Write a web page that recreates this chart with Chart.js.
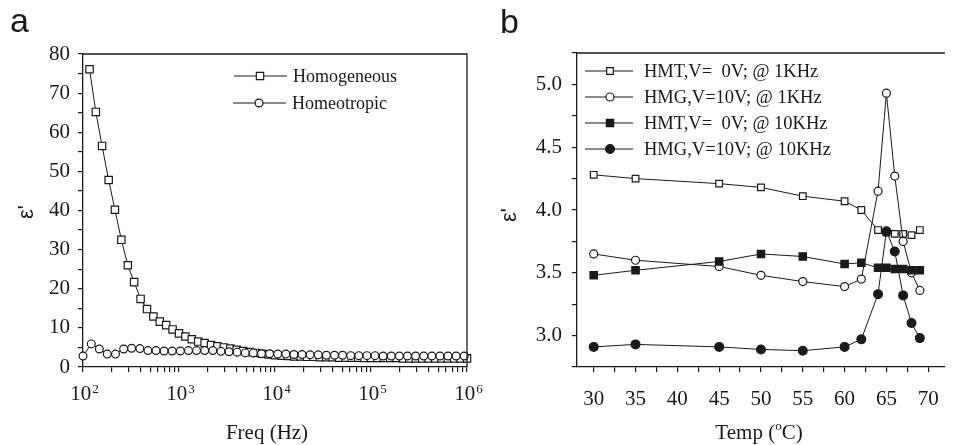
<!DOCTYPE html>
<html>
<head>
<meta charset="utf-8">
<script src="https://cdn.jsdelivr.net/npm/chart.js@4.4.0/dist/chart.umd.min.js"></script>
<style>
  html, body { margin: 0; padding: 0; background: #fff; overflow: hidden; }
  #wrap { position: relative; width: 953px; height: 445px; }
  #ca { position: absolute; left: 0; top: 0; }
  #cb { position: absolute; left: 480px; top: 0; }
</style>
</head>
<body>
<div id="wrap">
  <canvas id="ca" width="500" height="445"></canvas>
  <canvas id="cb" width="474" height="445"></canvas>
</div>
<script>
// ---- panel a : permittivity vs frequency ----
const FREQ_HOMOGENEOUS = [117, 136, 158, 185, 215, 251, 293, 341, 398, 464, 541, 631, 736, 858, 1000,
  1166, 1359, 1585, 1848, 2154, 2512, 2929, 3415, 3981, 4642, 5412, 6310, 7356, 8577, 10000,
  11660, 13590, 15850, 18480, 21540, 25120, 29290, 34150, 39810, 46420, 54120, 63100, 73560, 85770, 100000,
  116600, 135900, 158500, 184800, 215400, 251200, 292900, 341500, 398100, 464200, 541200, 631000, 735600, 857700, 1000000];
const EPS_HOMOGENEOUS = [76.1, 65.2, 56.5, 47.8, 40.2, 32.5, 26.0, 21.7, 17.4, 14.8, 12.9, 11.6, 10.7, 9.6, 8.6,
  7.8, 7.1, 6.5, 6.1, 5.6, 5.3, 5.0, 4.7, 4.4, 4.1, 3.8, 3.6, 3.4, 3.2, 3.0,
  2.9, 2.8, 2.7, 2.7, 2.6, 2.6, 2.5, 2.5, 2.5, 2.4, 2.4, 2.4, 2.4, 2.3, 2.3,
  2.3, 2.3, 2.3, 2.3, 2.2, 2.2, 2.2, 2.2, 2.2, 2.2, 2.2, 2.2, 2.2, 2.2, 2.2];

const FREQ_HOMEOTROPIC = [100, 122, 148, 179, 218, 265, 321, 391, 474, 576, 700, 850,
  1033, 1255, 1524, 1851, 2249, 2733, 3319, 4032, 4898, 5950, 7228, 8780,
  10670, 12960, 15740, 19120, 23230, 28220, 34280, 41640, 50580, 61450, 74650, 90680,
  110150, 133810, 162560, 197470, 239880, 291410, 354000, 430030, 522400, 634600, 770900, 936500];
const EPS_HOMEOTROPIC = [2.8, 5.9, 4.6, 3.3, 3.3, 4.6, 4.8, 4.7, 4.2, 4.2, 4.1, 4.1,
  4.1, 4.2, 4.2, 4.2, 4.2, 4.0, 3.9, 3.8, 3.6, 3.6, 3.4, 3.4,
  3.3, 3.3, 3.2, 3.2, 3.1, 3.1, 3.0, 3.0, 3.0, 2.9, 2.9, 2.9,
  2.9, 2.8, 2.8, 2.8, 2.8, 2.8, 2.8, 2.8, 2.8, 2.8, 2.8, 2.8];

const FREQ_TICKS = [100, 200, 300, 400, 500, 600, 700, 800, 900,
  1000, 2000, 3000, 4000, 5000, 6000, 7000, 8000, 9000,
  10000, 20000, 30000, 40000, 50000, 60000, 70000, 80000, 90000,
  100000, 200000, 300000, 400000, 500000, 600000, 700000, 800000, 900000, 1000000];
const FREQ_LABEL_EXPONENTS = [2, 3, 4, 5, 6];
const EPS_A_TICKS = [0, 5, 10, 15, 20, 25, 30, 35, 40, 45, 50, 55, 60, 65, 70, 75, 80];
const LEGEND_A = ['Homogeneous', 'Homeotropic'];

// ---- panel b : permittivity vs temperature ----
const TEMP = [30, 35, 45, 50, 55, 60, 62, 64, 65, 66, 67, 68, 69];
const HMT_1K  = [4.28, 4.25, 4.21, 4.18, 4.11, 4.07, 4.00, 3.84, 3.82, 3.81, 3.81, 3.80, 3.84];
const HMG_1K  = [3.65, 3.60, 3.55, 3.48, 3.43, 3.39, 3.45, 4.15, 4.93, 4.27, 3.75, 3.50, 3.36];
const HMT_10K = [3.48, 3.52, 3.59, 3.65, 3.63, 3.57, 3.58, 3.54, 3.54, 3.53, 3.53, 3.52, 3.52];
const HMG_10K = [2.91, 2.93, 2.91, 2.89, 2.88, 2.91, 2.97, 3.33, 3.83, 3.67, 3.32, 3.10, 2.98];

const TEMP_TICKS = [30, 32.5, 35, 37.5, 40, 42.5, 45, 47.5, 50, 52.5, 55, 57.5, 60, 62.5, 65, 67.5, 70];
const EPS_B_TICKS = [2.75, 3.0, 3.25, 3.5, 3.75, 4.0, 4.25, 4.5, 4.75, 5.0, 5.25];
const LEGEND_B = ['HMT,V=  0V; @ 1KHz', 'HMG,V=10V; @ 1KHz', 'HMT,V=  0V; @ 10KHz', 'HMG,V=10V; @ 10KHz'];

const INK = '#1a1a1a';
const SERIF = '"Liberation Serif", "Times New Roman", serif';
const SANS = '"Liberation Sans", Arial, sans-serif';

function pts(xs, ys) { return xs.map((x, i) => ({ x: x, y: ys[i] })); }

function marker(ctx, style, r, fill, x, y) {
  ctx.save();
  ctx.beginPath();
  if (style === 'rect') {
    const s = r * Math.SQRT1_2;
    ctx.rect(x - s, y - s, 2 * s, 2 * s);
  } else {
    ctx.arc(x, y, r, 0, Math.PI * 2);
  }
  ctx.fillStyle = fill;
  ctx.fill();
  ctx.lineWidth = 1.2;
  ctx.strokeStyle = INK;
  ctx.stroke();
  ctx.restore();
}

function legendRow(ctx, ds, label, x0, x1, xm, xt, y, font) {
  ctx.save();
  ctx.strokeStyle = INK;
  ctx.lineWidth = 1.2;
  ctx.beginPath(); ctx.moveTo(x0, y); ctx.lineTo(x1, y); ctx.stroke();
  marker(ctx, ds.pointStyle, ds.pointRadius, ds.pointBackgroundColor, xm, y);
  ctx.fillStyle = INK;
  ctx.font = font;
  ctx.textBaseline = 'middle';
  ctx.textAlign = 'left';
  ctx.fillText(label, xt, y + 1);
  ctx.restore();
}

function yTitle(ctx, x, y) {
  ctx.save();
  ctx.translate(x, y);
  ctx.rotate(-Math.PI / 2);
  ctx.fillStyle = INK;
  ctx.font = '22px ' + SANS;
  ctx.textAlign = 'center';
  ctx.textBaseline = 'middle';
  ctx.fillText("ε'", 0, 0);
  ctx.restore();
}

function series(label, xs, ys, style, r, fill, order) {
  return {
    label: label, data: pts(xs, ys), order: order,
    borderColor: INK, borderWidth: 1, pointStyle: style, pointRadius: r,
    pointBackgroundColor: fill, pointBorderColor: INK, pointBorderWidth: 1.2,
    tension: 0, fill: false, clip: false
  };
}

function axisBase() {
  return {
    grid: { display: true, drawOnChartArea: false, drawTicks: true, tickLength: 5, color: INK, lineWidth: 1.2 },
    border: { display: true, color: INK, width: 1.3 },
    ticks: { font: { family: SERIF, size: 21 }, color: INK, autoSkip: false, maxRotation: 0 }
  };
}

// ---------- chart a ----------
const xa = axisBase();
xa.type = 'logarithmic'; xa.min = 100; xa.max = 1000000;
xa.afterBuildTicks = s => { s.ticks = FREQ_TICKS.map(v => ({ value: v })); };
xa.ticks.callback = () => '';
xa.afterFit = s => { s.height = 78; };

const ya = axisBase();
ya.type = 'linear'; ya.min = 0; ya.max = 80;
ya.afterBuildTicks = s => { s.ticks = EPS_A_TICKS.map(v => ({ value: v })); };
ya.ticks.callback = v => (v % 10 === 0 ? String(v) : '');
ya.ticks.padding = 8;
ya.afterFit = s => { s.width = 83; };

const decorA = {
  id: 'decorA',
  afterDraw(chart) {
    const { ctx, chartArea: a } = chart;
    const sx = chart.scales.x;
    ctx.save();
    ctx.strokeStyle = INK; ctx.lineWidth = 1.3;
    ctx.beginPath(); ctx.moveTo(a.left, a.top); ctx.lineTo(a.right, a.top); ctx.lineTo(a.right, a.bottom); ctx.stroke();

    // 10^n labels
    ctx.fillStyle = INK; ctx.textBaseline = 'alphabetic'; ctx.textAlign = 'left';
    FREQ_LABEL_EXPONENTS.forEach(p => {
      const x = sx.getPixelForValue(Math.pow(10, p));
      ctx.font = '21px ' + SERIF;
      const wb = ctx.measureText('10').width;
      ctx.font = '13px ' + SERIF;
      const we = ctx.measureText(String(p)).width;
      const start = x - (wb + we) / 2 + 1;
      ctx.font = '21px ' + SERIF;
      ctx.fillText('10', start, 400);
      ctx.font = '13px ' + SERIF;
      ctx.fillText(String(p), start + wb + 1, 393);
    });

    ctx.font = '21px ' + SERIF;
    ctx.textAlign = 'center';
    ctx.fillText('Freq (Hz)', 267, 439);
    ctx.restore();

    yTitle(ctx, 27, 212);

    ctx.save();
    ctx.fillStyle = INK; ctx.font = '34px ' + SANS; ctx.textAlign = 'left'; ctx.textBaseline = 'alphabetic';
    ctx.fillText('a', 10, 32);
    ctx.restore();

    const ds = chart.data.datasets;
    legendRow(ctx, ds[0], LEGEND_A[0], 234, 287, 260, 293, 76, '18px ' + SERIF);
    legendRow(ctx, ds[1], LEGEND_A[1], 233, 286, 259, 292, 103, '18px ' + SERIF);
  }
};

new Chart(document.getElementById('ca'), {
  type: 'line',
  data: {
    datasets: [
      series(LEGEND_A[0], FREQ_HOMOGENEOUS, EPS_HOMOGENEOUS, 'rect', 5.2, '#fff', 1),
      series(LEGEND_A[1], FREQ_HOMEOTROPIC, EPS_HOMEOTROPIC, 'circle', 3.9, '#fff', 0)
    ]
  },
  options: {
    responsive: false, animation: false, events: [],
    layout: { padding: { left: 0, right: 33, top: 54, bottom: 0 } },
    plugins: { legend: { display: false }, tooltip: { enabled: false } },
    scales: { x: xa, y: ya }
  },
  plugins: [decorA]
});

// ---------- chart b ----------
const xb = axisBase();
xb.type = 'linear'; xb.min = 28; xb.max = 72;
xb.afterBuildTicks = s => { s.ticks = TEMP_TICKS.map(v => ({ value: v })); };
xb.ticks.callback = v => (v % 5 === 0 ? String(v) : '');
xb.ticks.padding = 15;
xb.afterFit = s => { s.height = 78; };

const yb = axisBase();
yb.type = 'linear'; yb.min = 2.75; yb.max = 5.25;
yb.afterBuildTicks = s => { s.ticks = EPS_B_TICKS.map(v => ({ value: v })); };
yb.ticks.callback = v => (Math.abs(v * 2 - Math.round(v * 2)) < 1e-9 ? v.toFixed(1) : '');
yb.ticks.padding = 10;
yb.afterFit = s => { s.width = 97; };

const decorB = {
  id: 'decorB',
  afterDraw(chart) {
    const { ctx, chartArea: a } = chart;
    ctx.save();
    ctx.strokeStyle = INK; ctx.lineWidth = 1.3;
    ctx.beginPath(); ctx.moveTo(a.left, a.top); ctx.lineTo(a.right, a.top); ctx.stroke();

    // x title with superscript o
    ctx.fillStyle = INK; ctx.textBaseline = 'alphabetic'; ctx.textAlign = 'left';
    ctx.font = '21px ' + SERIF;
    const w1 = ctx.measureText('Temp (').width;
    const w3 = ctx.measureText('C)').width;
    ctx.font = '13px ' + SERIF;
    const w2 = ctx.measureText('o').width;
    let x = 279 - (w1 + w2 + w3) / 2;
    ctx.font = '21px ' + SERIF;
    ctx.fillText('Temp (', x, 439);
    ctx.font = '13px ' + SERIF;
    ctx.fillText('o', x + w1, 430);
    ctx.font = '21px ' + SERIF;
    ctx.fillText('C)', x + w1 + w2, 439);
    ctx.restore();

    yTitle(ctx, 30, 215);

    ctx.save();
    ctx.fillStyle = INK; ctx.font = '34px ' + SANS; ctx.textAlign = 'left'; ctx.textBaseline = 'alphabetic';
    ctx.fillText('b', 20, 33);
    ctx.restore();

    const ds = chart.data.datasets;
    const rows = [71, 97, 123, 149];
    ds.forEach((d, i) => legendRow(ctx, d, LEGEND_B[i], 105, 153, 130, 164, rows[i], '18.5px ' + SERIF));
  }
};

new Chart(document.getElementById('cb'), {
  type: 'line',
  data: {
    datasets: [
      series(LEGEND_B[0], TEMP, HMT_1K, 'rect', 4.7, '#fff', 4),
      series(LEGEND_B[1], TEMP, HMG_1K, 'circle', 4, '#fff', 3),
      series(LEGEND_B[2], TEMP, HMT_10K, 'rect', 5.2, INK, 2),
      series(LEGEND_B[3], TEMP, HMG_10K, 'circle', 4.4, INK, 1)
    ]
  },
  options: {
    responsive: false, animation: false, events: [],
    layout: { padding: { left: 0, right: 0, top: 53, bottom: 0 } },
    plugins: { legend: { display: false }, tooltip: { enabled: false } },
    scales: { x: xb, y: yb }
  },
  plugins: [decorB]
});
</script>
</body>
</html>
